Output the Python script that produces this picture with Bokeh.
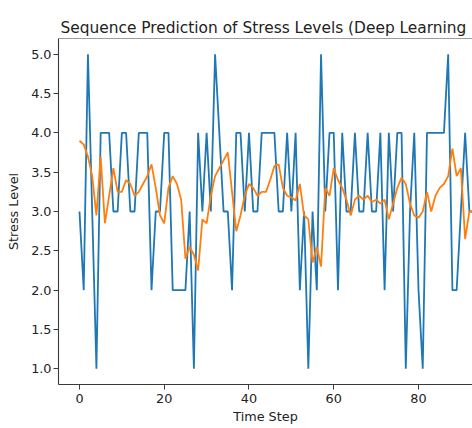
from bokeh.plotting import figure
from bokeh.models import Range1d, FixedTicker, Span, CustomJSTickFormatter
from bokeh.embed import file_html
from bokeh.resources import INLINE

# ---- data ----
time_step = list(range(94))
actual = [3, 2, 5, 3, 1, 4, 4, 4, 3, 3,
          4, 4, 3, 3, 4, 4, 4, 2, 3, 3,
          4, 4, 2, 2, 2, 2, 3, 1, 4, 3,
          4, 3, 5, 4, 3, 3, 2, 4, 4, 3,
          4, 3, 3, 4, 4, 4, 4, 3, 3, 4,
          3, 4, 2, 3, 1, 3, 2, 5, 3, 4,
          4, 2, 4, 3, 3, 4, 3, 3, 4, 3,
          3, 4, 2, 4, 3, 4, 4, 1, 3, 4,
          2, 1, 4, 4, 4, 4, 4, 5, 2, 2,
          3, 4, 3, 3]
predicted = [3.90, 3.85, 3.70, 3.45, 2.95, 3.70, 2.85, 3.20, 3.55, 3.25,
             3.25, 3.40, 3.35, 3.20, 3.25, 3.35, 3.45, 3.60, 3.30, 2.95,
             2.85, 3.30, 3.45, 3.35, 3.15, 2.40, 2.55, 2.45, 2.25, 2.90,
             2.85, 3.20, 3.45, 3.55, 3.65, 3.75, 3.25, 2.75, 2.95, 3.20,
             3.35, 3.30, 3.20, 3.25, 3.25, 3.40, 3.58, 3.60, 3.30, 3.20,
             3.18, 3.14, 3.35, 2.95, 2.90, 2.35, 2.55, 2.30, 3.30, 3.20,
             3.55, 3.40, 3.30, 3.15, 2.95, 3.15, 3.20, 3.15, 3.20, 3.12,
             3.15, 3.10, 3.15, 2.90, 3.10, 3.30, 3.43, 3.35, 3.10, 2.95,
             2.92, 3.00, 3.25, 3.00, 3.20, 3.30, 3.35, 3.45, 3.80, 3.45,
             3.55, 2.65, 3.00, 3.00]
y_ticks = [1.0, 1.5, 2.0, 2.5, 3.0, 3.5, 4.0, 4.5, 5.0]
x_ticks = [0, 20, 40, 60, 80]

title_text = "Sequence Prediction of Stress Levels (Deep Learning"

FONT = "DejaVu Sans"
AX = "#3a3a3a"

p = figure(width=472, height=428, output_backend="svg", toolbar_location=None,
           x_range=Range1d(-4.95, 92.74), y_range=Range1d(0.8, 5.2),
           min_border_left=58, min_border_right=0, min_border_top=38,
           min_border_bottom=44)

p.line(time_step, actual, line_color="#1f77b4", line_width=1.8)
p.line(time_step, predicted, line_color="#ff7f0e", line_width=1.8)

p.background_fill_color = "white"
p.border_fill_color = "white"
p.outline_line_color = None
p.xgrid.visible = False
p.ygrid.visible = False

top_spine = Span(location=5.2, dimension="width", line_color=AX, line_width=1.1)
p.add_layout(top_spine)

p.title.text = title_text
p.title.text_font = FONT
p.title.text_font_size = "15.4px"
p.title.text_font_style = "normal"
p.title.text_color = "#222222"
p.title.align = "left"
p.title.offset = 2
p.title.standoff = 4

for ax in (p.xaxis[0], p.yaxis[0]):
    ax.axis_line_color = AX
    ax.axis_line_width = 1.1
    ax.major_tick_line_color = AX
    ax.major_tick_line_width = 1.0
    ax.major_tick_in = 0
    ax.major_tick_out = 5
    ax.minor_tick_line_color = None
    ax.major_label_text_font = FONT
    ax.major_label_text_font_size = "12.8px"
    ax.major_label_text_color = "#222222"
    ax.axis_label_text_font = FONT
    ax.axis_label_text_font_size = "12.8px"
    ax.axis_label_text_font_style = "normal"
    ax.axis_label_text_color = "#222222"

p.xaxis.ticker = FixedTicker(ticks=x_ticks)
p.yaxis.ticker = FixedTicker(ticks=y_ticks)
p.yaxis.formatter = CustomJSTickFormatter(code="return tick.toFixed(1);")
p.xaxis.axis_label = "Time Step"
p.yaxis.axis_label = "Stress Level"
p.xaxis.major_label_standoff = 4
p.xaxis.axis_label_standoff = 3
p.yaxis.major_label_standoff = 2
p.yaxis.axis_label_standoff = 7

open("out.html", "w").write(file_html(p, INLINE))
